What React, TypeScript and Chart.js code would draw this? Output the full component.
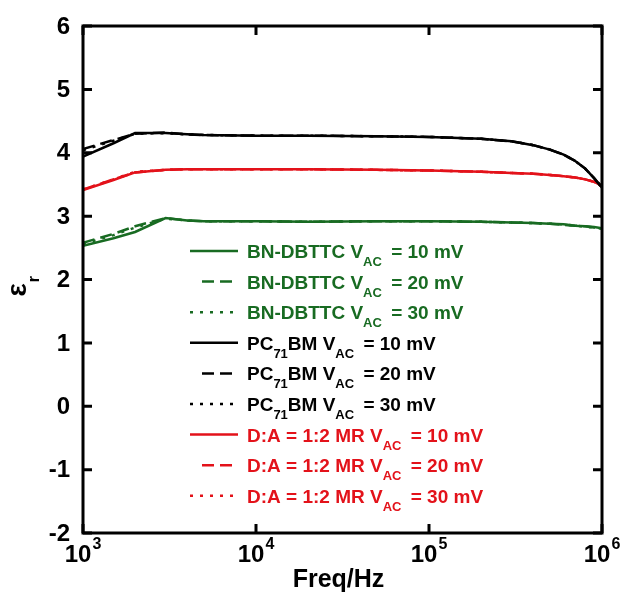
import React, { useEffect, useRef } from "react";
import { Chart, registerables } from "chart.js";

Chart.register(...registerables);

// ---- data ----
const freqHz = [1000, 1500, 2000, 3000, 4000, 5000, 10000, 20000, 50000, 100000, 200000, 300000, 400000, 500000, 600000, 700000, 800000, 900000, 1000000];

const bnDbttc10 = [2.53, 2.65, 2.75, 2.97, 2.93, 2.92, 2.92, 2.91, 2.92, 2.92, 2.91, 2.90, 2.89, 2.88, 2.87, 2.85, 2.84, 2.83, 2.81];
const bnDbttc20 = [2.58, 2.72, 2.84, 2.97, 2.93, 2.92, 2.92, 2.91, 2.92, 2.92, 2.91, 2.90, 2.89, 2.88, 2.86, 2.85, 2.84, 2.82, 2.80];
const bnDbttc30 = [2.56, 2.70, 2.82, 2.96, 2.93, 2.92, 2.92, 2.91, 2.92, 2.92, 2.91, 2.90, 2.89, 2.88, 2.87, 2.85, 2.83, 2.82, 2.80];

const pc71bm10 = [3.94, 4.15, 4.31, 4.31, 4.29, 4.28, 4.27, 4.27, 4.26, 4.25, 4.22, 4.18, 4.12, 4.05, 3.97, 3.87, 3.75, 3.60, 3.45];
const pc71bm20 = [4.06, 4.20, 4.30, 4.32, 4.29, 4.28, 4.27, 4.27, 4.26, 4.25, 4.22, 4.18, 4.12, 4.05, 3.97, 3.87, 3.75, 3.60, 3.45];
const pc71bm30 = [4.04, 4.19, 4.30, 4.31, 4.29, 4.28, 4.27, 4.27, 4.26, 4.25, 4.22, 4.18, 4.12, 4.05, 3.97, 3.87, 3.75, 3.60, 3.46];

const blend10 = [3.41, 3.57, 3.69, 3.73, 3.74, 3.74, 3.74, 3.74, 3.73, 3.72, 3.70, 3.68, 3.67, 3.65, 3.63, 3.61, 3.58, 3.54, 3.48];
const blend20 = [3.42, 3.58, 3.69, 3.73, 3.74, 3.74, 3.74, 3.74, 3.73, 3.72, 3.70, 3.68, 3.67, 3.65, 3.63, 3.61, 3.58, 3.54, 3.48];
const blend30 = [3.42, 3.58, 3.70, 3.73, 3.74, 3.74, 3.74, 3.74, 3.73, 3.72, 3.70, 3.68, 3.67, 3.65, 3.63, 3.61, 3.58, 3.54, 3.47];

const xTickValues = [1000, 10000, 100000, 1000000];
const xTickExponents = ["3", "4", "5", "6"];
const yTickValues = [-2, -1, 0, 1, 2, 3, 4, 5, 6];

const GREEN = "#186b22";
const BLACK = "#000000";
const RED = "#e3121a";

const SOLID: number[] = [];
const DASHED = [12, 6];
const DOTTED = [3, 7];

type Seg = { t: string; sub?: boolean; gap?: number };
const legendLabels: Seg[][] = [
  [{ t: "BN-DBTTC V" }, { t: "AC", sub: true, gap: 4 }, { t: " = 10 mV" }],
  [{ t: "BN-DBTTC V" }, { t: "AC", sub: true, gap: 4 }, { t: " = 20 mV" }],
  [{ t: "BN-DBTTC V" }, { t: "AC", sub: true, gap: 4 }, { t: " = 30 mV" }],
  [{ t: "PC" }, { t: "71", sub: true, gap: 0 }, { t: "BM V" }, { t: "AC", sub: true, gap: 4 }, { t: " = 10 mV" }],
  [{ t: "PC" }, { t: "71", sub: true, gap: 0 }, { t: "BM V" }, { t: "AC", sub: true, gap: 4 }, { t: " = 20 mV" }],
  [{ t: "PC" }, { t: "71", sub: true, gap: 0 }, { t: "BM V" }, { t: "AC", sub: true, gap: 4 }, { t: " = 30 mV" }],
  [{ t: "D:A = 1:2 MR V" }, { t: "AC", sub: true, gap: 4 }, { t: " = 10 mV" }],
  [{ t: "D:A = 1:2 MR V" }, { t: "AC", sub: true, gap: 4 }, { t: " = 20 mV" }],
  [{ t: "D:A = 1:2 MR V" }, { t: "AC", sub: true, gap: 4 }, { t: " = 30 mV" }],
];

const seriesValues = [bnDbttc10, bnDbttc20, bnDbttc30, pc71bm10, pc71bm20, pc71bm30, blend10, blend20, blend30];
const seriesColors = [GREEN, GREEN, GREEN, BLACK, BLACK, BLACK, RED, RED, RED];
const seriesDashes = [SOLID, DASHED, DOTTED, SOLID, DASHED, DOTTED, SOLID, DASHED, DOTTED];

const FONT = "'Liberation Sans', Arial, Helvetica, sans-serif";

const decorPlugin = {
  id: "decor",
  afterDatasetsDraw(chart: any) {
    const ctx: CanvasRenderingContext2D = chart.ctx;
    const { left, right, top, bottom } = chart.chartArea;
    const xs = chart.scales.x;
    const ys = chart.scales.y;
    ctx.save();

    // frame
    ctx.strokeStyle = "#000";
    ctx.lineWidth = 3;
    ctx.setLineDash([]);
    ctx.strokeRect(left, top, right - left, bottom - top);

    // ticks (inward)
    const tl = 9;
    ctx.lineWidth = 3;
    ctx.beginPath();
    yTickValues.forEach((v) => {
      const y = ys.getPixelForValue(v);
      ctx.moveTo(left, y);
      ctx.lineTo(left + tl, y);
      ctx.moveTo(right, y);
      ctx.lineTo(right - tl, y);
    });
    xTickValues.forEach((v) => {
      const x = xs.getPixelForValue(v);
      ctx.moveTo(x, bottom);
      ctx.lineTo(x, bottom - tl);
      ctx.moveTo(x, top);
      ctx.lineTo(x, top + tl);
    });
    ctx.stroke();

    // y tick labels
    ctx.fillStyle = "#000";
    ctx.font = `bold 24px ${FONT}`;
    ctx.textAlign = "right";
    ctx.textBaseline = "middle";
    yTickValues.forEach((v) => {
      ctx.fillText(String(v), left - 13, ys.getPixelForValue(v) + 1);
    });

    // x tick labels 10^n
    ctx.textAlign = "left";
    ctx.textBaseline = "alphabetic";
    xTickValues.forEach((v, i) => {
      const x = xs.getPixelForValue(v);
      ctx.font = `bold 24px ${FONT}`;
      const wb = ctx.measureText("10").width;
      ctx.font = `bold 16px ${FONT}`;
      const we = ctx.measureText(xTickExponents[i]).width;
      const x0 = x - (wb + we + 1) / 2;
      ctx.font = `bold 24px ${FONT}`;
      ctx.fillText("10", x0, bottom + 29);
      ctx.font = `bold 16px ${FONT}`;
      ctx.fillText(xTickExponents[i], x0 + wb + 1, bottom + 16);
    });

    // x title
    ctx.font = `bold 25px ${FONT}`;
    ctx.textAlign = "center";
    ctx.fillText("Freq/Hz", (left + right) / 2 - 4, bottom + 54);

    // y title epsilon_r
    ctx.save();
    ctx.translate(left - 57, (top + bottom) / 2 + 17);
    ctx.rotate(-Math.PI / 2);
    ctx.textAlign = "left";
    ctx.font = `bold 28px ${FONT}`;
    ctx.fillText("ε", 0, 0);
    const we = ctx.measureText("ε").width;
    ctx.font = `bold 16px ${FONT}`;
    ctx.fillText("r", we + 1, 13);
    ctx.restore();

    // legend
    const x1 = 190;
    const x2 = 238;
    const tx = 247;
    const baseY0 = 258;
    const step = 30.6;
    legendLabels.forEach((segs, i) => {
      const base = baseY0 + i * step;
      const ly = base - 7;
      const color = seriesColors[i];
      const dash = seriesDashes[i];
      ctx.strokeStyle = color;
      ctx.lineWidth = 2.5;
      ctx.setLineDash(dash);
      ctx.beginPath();
      const startX = dash === DASHED ? 202 : x1;
      ctx.moveTo(startX, ly);
      ctx.lineTo(x2, ly);
      ctx.stroke();
      ctx.setLineDash([]);
      ctx.fillStyle = color;
      ctx.textAlign = "left";
      let cx = tx;
      segs.forEach((s) => {
        if (s.sub) {
          ctx.font = `bold 13px ${FONT}`;
          ctx.fillText(s.t, cx, base + 8);
          cx += ctx.measureText(s.t).width + (s.gap ?? 0);
        } else {
          ctx.font = `bold 19px ${FONT}`;
          ctx.fillText(s.t, cx, base);
          cx += ctx.measureText(s.t).width;
        }
      });
    });

    ctx.restore();
  },
};

export default function App() {
  const ref = useRef<HTMLCanvasElement | null>(null);
  useEffect(() => {
    if (!ref.current) return;
    const chart = new Chart(ref.current, {
      type: "line",
      data: {
        datasets: seriesValues.map((vals, i) => ({
          label: legendLabels[i].map((s) => s.t).join(""),
          data: freqHz.map((f, j) => ({ x: f, y: vals[j] })),
          borderColor: seriesColors[i],
          backgroundColor: seriesColors[i],
          borderWidth: 2.5,
          borderDash: seriesDashes[i],
          pointRadius: 0,
          tension: 0,
          fill: false,
        })),
      },
      plugins: [decorPlugin],
      options: {
        animation: false,
        responsive: false,
        devicePixelRatio: 1,
        layout: { padding: { left: 83, top: 26, right: 23, bottom: 61 } },
        plugins: { legend: { display: false }, tooltip: { enabled: false } },
        scales: {
          x: { type: "logarithmic", min: 1000, max: 1000000, display: false },
          y: { type: "linear", min: -2, max: 6, display: false },
        },
      },
    });
    return () => chart.destroy();
  }, []);
  return (
    <div style={{ position: "absolute", left: 0, top: 0, width: 625, height: 594, background: "#fff" }}>
      <canvas ref={ref} width={625} height={594} style={{ display: "block" }} />
    </div>
  );
}
